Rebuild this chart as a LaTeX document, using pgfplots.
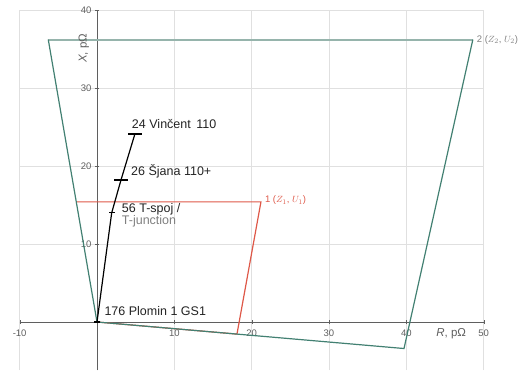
\documentclass[border=0pt]{standalone}
\usepackage{pgfplots}
\pgfplotsset{compat=1.18}
\usepackage{fontspec}
\setmainfont{Liberation Sans}
\definecolor{grn}{RGB}{66,128,114}
\definecolor{grnl}{RGB}{150,180,172}
\definecolor{rd}{RGB}{222,88,72}
\definecolor{gridc}{RGB}{224,224,224}
\definecolor{axc}{RGB}{95,95,95}
\definecolor{lab}{RGB}{35,35,35}
\begin{document}
\begin{tikzpicture}
\useasboundingbox (-97pt,-56pt) rectangle (430pt,322pt);
\begin{axis}[
  at={(0,0)}, anchor=origin,
  x=7.733pt, y=7.8pt,
  xmin=-10, xmax=50, ymin=-6.2, ymax=40,
  axis lines=middle,
  axis line style={axc,-, line width=0.8pt},
  grid=major,
  grid style={gridc, line width=0.8pt},
  xtick={-10,10,20,30,40,50},
  ytick={10,20,30,40},
  tick style={axc},
  major tick length=4pt,
  ticklabel style={font=\fontsize{9.5}{11}\selectfont, text=axc},
  xticklabel style={yshift=-2pt},
  /pgf/number format/assume math mode=true,
  clip=false,
]
\addplot[rd, line width=1.2pt] coordinates {(0,0) (18.1,-1.55) (21.2,15.4) (-2.7,15.4)};
\addplot[grnl, line width=2.2pt] coordinates {(-6.3,36.2) (48.6,36.2)};
\addplot[grn, line width=1.2pt] coordinates {(-6.3,36.2) (0,0) (39.7,-3.4) (48.6,36.2)};
\addplot[black, line width=1.2pt] coordinates {(0,0) (1.9,14.0) (3.1,18.2) (4.9,24.1)};
\addplot[black, only marks, mark=-, mark size=7pt, mark options={line width=1.1pt}] coordinates {(3.1,18.2) (4.9,24.1)};
\addplot[black, only marks, mark=-, mark size=3pt, mark options={line width=1.1pt}] coordinates {(0,0) (1.9,14.0)};
\begin{scope}[font=\fontsize{12.5}{14}\selectfont, text=lab]
\node[anchor=west, inner sep=0] at (axis cs:4.5,25.4) {24 Vinčent\, 110};
\node[anchor=west, inner sep=0] at (axis cs:4.4,19.3) {26 Šjana 110+};
\node[anchor=west, inner sep=0] at (axis cs:3.2,14.5) {56 T-spoj /};
\node[anchor=west, inner sep=0, text=gray] at (axis cs:3.2,12.9) {T-junction};
\node[anchor=west, inner sep=0] at (axis cs:0.95,1.4) {176 Plomin 1 GS1};
\end{scope}
\begin{scope}[font=\fontsize{11.5}{13}\selectfont, text=axc]
\node at (axis cs:45.8,-1.5) {\textit{R}, pΩ};
\node[rotate=90] at (axis cs:-1.7,35.1) {\textit{X}, pΩ};
\end{scope}
\node[anchor=west, inner sep=0, text=rd, font=\fontsize{9.5}{10}\selectfont] at (axis cs:21.7,15.6) {1 ($Z_1$, $U_1$)};
\node[anchor=west, inner sep=0, text=gray, font=\fontsize{9.5}{10}\selectfont] at (axis cs:49.1,36.2) {2 ($Z_2$, $U_2$)};
\end{axis}
\end{tikzpicture}
\end{document}
